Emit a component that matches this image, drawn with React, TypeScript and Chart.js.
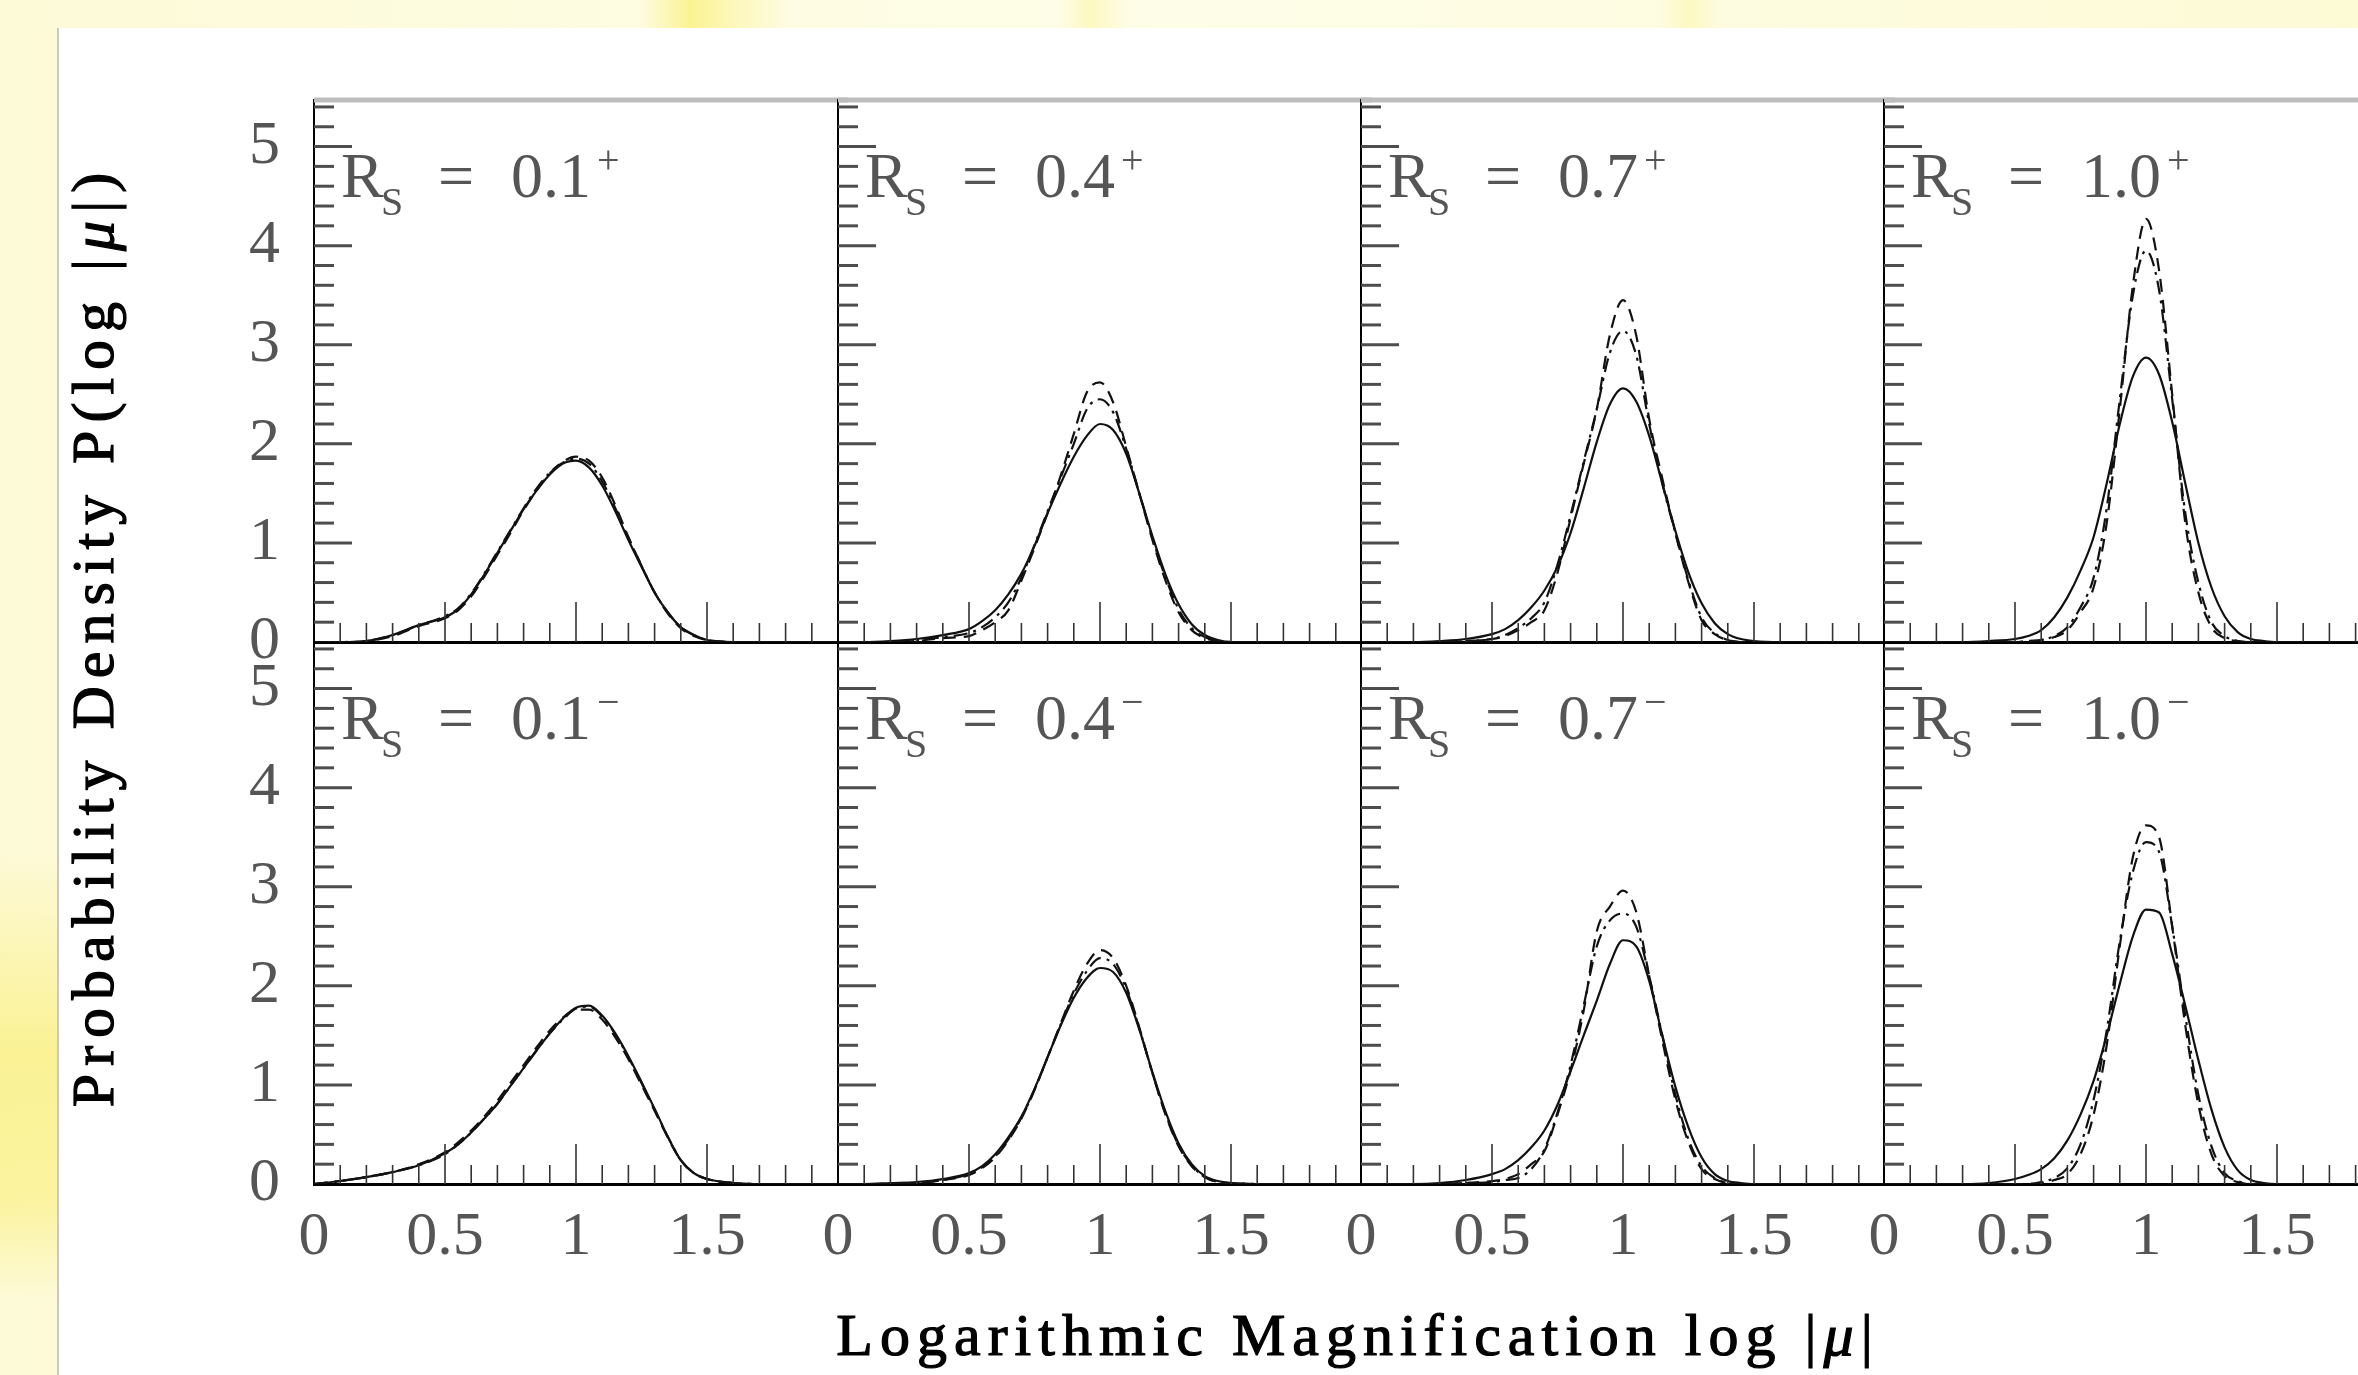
import React, { useEffect, useRef } from 'react';
import Chart from 'chart.js/auto';

// log|mu| sample points shared by every curve
const LOG_MU = [0, 0.1, 0.2, 0.3, 0.4, 0.5, 0.55, 0.6, 0.65, 0.7, 0.75, 0.8, 0.85, 0.9, 0.95, 1.0, 1.05, 1.1, 1.15, 1.2, 1.25, 1.3, 1.35, 1.4, 1.45, 1.5, 1.6, 1.7, 1.8, 1.9, 2.0];

const RS_VALUES = ['0.1', '0.4', '0.7', '1.0'];
const RS_SIGNS = ['+', '\u2212'];

// top row: Rs = 0.1+ ... 1.0+
const P01_PLUS_SOLID = [0, 0, 0.01, 0.07, 0.17, 0.25, 0.33, 0.48, 0.68, 0.9, 1.12, 1.34, 1.53, 1.69, 1.8, 1.83, 1.76, 1.58, 1.32, 1.03, 0.76, 0.5, 0.3, 0.15, 0.07, 0.02, 0, 0, 0, 0, 0];
const P01_PLUS_DASHED = [0, 0, 0.01, 0.06, 0.16, 0.24, 0.32, 0.46, 0.66, 0.88, 1.1, 1.33, 1.53, 1.7, 1.82, 1.87, 1.83, 1.66, 1.38, 1.06, 0.77, 0.5, 0.29, 0.14, 0.06, 0.02, 0, 0, 0, 0, 0];
const P01_PLUS_DOTDASH = [0, 0, 0.01, 0.07, 0.17, 0.26, 0.34, 0.49, 0.69, 0.91, 1.13, 1.35, 1.55, 1.71, 1.81, 1.85, 1.8, 1.62, 1.35, 1.05, 0.77, 0.5, 0.3, 0.15, 0.07, 0.02, 0, 0, 0, 0, 0];

const P04_PLUS_SOLID = [0, 0, 0.01, 0.03, 0.07, 0.13, 0.21, 0.32, 0.48, 0.69, 0.97, 1.3, 1.6, 1.87, 2.08, 2.2, 2.14, 1.9, 1.5, 1.07, 0.68, 0.38, 0.18, 0.07, 0.02, 0, 0, 0, 0, 0, 0];
const P04_PLUS_DASHED = [0, 0, 0, 0.01, 0.04, 0.06, 0.12, 0.2, 0.32, 0.62, 0.95, 1.3, 1.68, 2.1, 2.52, 2.62, 2.42, 1.97, 1.5, 1.03, 0.62, 0.3, 0.12, 0.04, 0.01, 0, 0, 0, 0, 0, 0];
const P04_PLUS_DOTDASH = [0, 0, 0, 0.02, 0.05, 0.09, 0.15, 0.25, 0.4, 0.65, 0.98, 1.32, 1.66, 2.0, 2.35, 2.45, 2.32, 1.95, 1.5, 1.05, 0.65, 0.33, 0.14, 0.05, 0.01, 0, 0, 0, 0, 0, 0];

const P07_PLUS_SOLID = [0, 0, 0, 0.01, 0.03, 0.08, 0.13, 0.22, 0.35, 0.52, 0.76, 1.1, 1.55, 2.02, 2.4, 2.56, 2.43, 2.08, 1.6, 1.12, 0.7, 0.39, 0.19, 0.08, 0.03, 0.01, 0, 0, 0, 0, 0];
const P07_PLUS_DASHED = [0, 0, 0, 0, 0.01, 0.03, 0.06, 0.12, 0.2, 0.32, 0.7, 1.25, 1.8, 2.35, 3.1, 3.45, 3.1, 2.25, 1.65, 1.1, 0.6, 0.22, 0.08, 0.02, 0, 0, 0, 0, 0, 0, 0];
const P07_PLUS_DOTDASH = [0, 0, 0, 0, 0.01, 0.03, 0.07, 0.14, 0.24, 0.4, 0.78, 1.28, 1.82, 2.35, 2.92, 3.14, 2.9, 2.2, 1.6, 1.1, 0.62, 0.25, 0.09, 0.02, 0, 0, 0, 0, 0, 0, 0];

const P10_PLUS_SOLID = [0, 0, 0, 0, 0.01, 0.03, 0.06, 0.12, 0.25, 0.45, 0.72, 1.06, 1.6, 2.2, 2.68, 2.87, 2.7, 2.22, 1.6, 1.0, 0.55, 0.26, 0.1, 0.03, 0.01, 0, 0, 0, 0, 0, 0];
const P10_PLUS_DASHED = [0, 0, 0, 0, 0, 0, 0.01, 0.02, 0.05, 0.12, 0.3, 0.55, 1.2, 2.35, 3.6, 4.27, 3.75, 2.5, 1.2, 0.5, 0.15, 0.04, 0.01, 0, 0, 0, 0, 0, 0, 0, 0];
const P10_PLUS_DOTDASH = [0, 0, 0, 0, 0, 0, 0.01, 0.02, 0.06, 0.15, 0.35, 0.65, 1.35, 2.45, 3.5, 3.95, 3.55, 2.45, 1.3, 0.6, 0.2, 0.06, 0.01, 0, 0, 0, 0, 0, 0, 0, 0];

// bottom row: Rs = 0.1- ... 1.0-
const P01_MINUS_SOLID = [0, 0.03, 0.07, 0.12, 0.19, 0.31, 0.4, 0.52, 0.66, 0.81, 0.99, 1.17, 1.35, 1.52, 1.67, 1.78, 1.8, 1.7, 1.52, 1.29, 1.03, 0.76, 0.48, 0.24, 0.11, 0.05, 0.01, 0, 0, 0, 0];
const P01_MINUS_DASHED = [0, 0.03, 0.07, 0.12, 0.2, 0.32, 0.42, 0.54, 0.68, 0.84, 1.02, 1.2, 1.38, 1.55, 1.68, 1.76, 1.76, 1.66, 1.48, 1.26, 1.0, 0.74, 0.47, 0.24, 0.11, 0.05, 0.01, 0, 0, 0, 0];
const P01_MINUS_DOTDASH = [0, 0.03, 0.07, 0.12, 0.19, 0.3, 0.4, 0.52, 0.66, 0.81, 0.99, 1.17, 1.35, 1.52, 1.66, 1.77, 1.79, 1.69, 1.51, 1.28, 1.02, 0.75, 0.48, 0.24, 0.11, 0.05, 0.01, 0, 0, 0, 0];

const P04_MINUS_SOLID = [0, 0, 0.01, 0.02, 0.05, 0.11, 0.18, 0.3, 0.47, 0.68, 0.96, 1.28, 1.6, 1.88, 2.08, 2.18, 2.14, 1.93, 1.56, 1.13, 0.73, 0.41, 0.2, 0.08, 0.03, 0.01, 0, 0, 0, 0, 0];
const P04_MINUS_DASHED = [0, 0, 0, 0.01, 0.04, 0.09, 0.16, 0.27, 0.44, 0.66, 0.95, 1.28, 1.62, 1.95, 2.22, 2.36, 2.28, 2.0, 1.58, 1.12, 0.7, 0.38, 0.18, 0.07, 0.02, 0.01, 0, 0, 0, 0, 0];
const P04_MINUS_DOTDASH = [0, 0, 0, 0.01, 0.04, 0.1, 0.17, 0.28, 0.45, 0.67, 0.95, 1.28, 1.61, 1.92, 2.15, 2.28, 2.22, 1.97, 1.57, 1.12, 0.71, 0.39, 0.19, 0.07, 0.02, 0.01, 0, 0, 0, 0, 0];

const P07_MINUS_SOLID = [0, 0, 0, 0.01, 0.04, 0.1, 0.15, 0.24, 0.37, 0.54, 0.8, 1.14, 1.5, 1.85, 2.22, 2.46, 2.4, 2.05, 1.5, 0.98, 0.57, 0.27, 0.1, 0.03, 0.01, 0, 0, 0, 0, 0, 0];
const P07_MINUS_DASHED = [0, 0, 0, 0, 0.01, 0.03, 0.05, 0.1, 0.2, 0.33, 0.7, 1.15, 1.75, 2.55, 2.8, 2.96, 2.75, 2.1, 1.45, 0.85, 0.42, 0.15, 0.05, 0.01, 0, 0, 0, 0, 0, 0, 0];
const P07_MINUS_DOTDASH = [0, 0, 0, 0, 0.01, 0.02, 0.04, 0.06, 0.15, 0.35, 0.72, 1.2, 1.8, 2.4, 2.66, 2.73, 2.6, 2.1, 1.5, 0.9, 0.45, 0.18, 0.06, 0.01, 0, 0, 0, 0, 0, 0, 0];

const P10_MINUS_SOLID = [0, 0, 0, 0, 0.01, 0.05, 0.09, 0.15, 0.26, 0.44, 0.7, 1.04, 1.5, 2.02, 2.5, 2.77, 2.74, 2.32, 1.8, 1.25, 0.75, 0.37, 0.14, 0.04, 0.01, 0, 0, 0, 0, 0, 0];
const P10_MINUS_DASHED = [0, 0, 0, 0, 0, 0, 0, 0.01, 0.04, 0.1, 0.3, 0.7, 1.4, 2.4, 3.3, 3.62, 3.5, 2.6, 1.6, 0.8, 0.3, 0.08, 0.02, 0, 0, 0, 0, 0, 0, 0, 0];
const P10_MINUS_DOTDASH = [0, 0, 0, 0, 0, 0, 0, 0.02, 0.06, 0.16, 0.4, 0.85, 1.55, 2.45, 3.15, 3.45, 3.35, 2.6, 1.7, 0.9, 0.38, 0.11, 0.03, 0, 0, 0, 0, 0, 0, 0, 0];

const PANELS = [
  [P01_PLUS_SOLID, P01_PLUS_DASHED, P01_PLUS_DOTDASH],
  [P04_PLUS_SOLID, P04_PLUS_DASHED, P04_PLUS_DOTDASH],
  [P07_PLUS_SOLID, P07_PLUS_DASHED, P07_PLUS_DOTDASH],
  [P10_PLUS_SOLID, P10_PLUS_DASHED, P10_PLUS_DOTDASH],
  [P01_MINUS_SOLID, P01_MINUS_DASHED, P01_MINUS_DOTDASH],
  [P04_MINUS_SOLID, P04_MINUS_DASHED, P04_MINUS_DOTDASH],
  [P07_MINUS_SOLID, P07_MINUS_DASHED, P07_MINUS_DOTDASH],
  [P10_MINUS_SOLID, P10_MINUS_DASHED, P10_MINUS_DOTDASH],
];

const LINE_DASHES = [[], [13, 8], [14, 6, 3, 6]];

// layout (page pixels)
const COL_LEFT = [314, 838, 1361, 1884];
const ROW_TOP = [100, 642];
const PANEL_W = 524;
const PANEL_H = 542;
const Y_AXIS_W = 150;
const X_AXIS_H = 110;
const PAD = 10;
const X_MAX = 2;
const Y_MAX = 5.47;

const LABEL_GRAY = '#555';
const SERIF = '"Liberation Serif", "Times New Roman", serif';

// tick marks drawn inward, plus the grey frame line on the top row
const innerTicks = {
  id: 'innerTicks',
  afterDraw(chart: any, _args: any, opts: any) {
    const { ctx, chartArea: a } = chart;
    const xs = chart.scales.x;
    const ys = chart.scales.y;
    ctx.save();
    ctx.strokeStyle = '#333';
    ctx.lineWidth = 1.6;
    for (let i = 1; i * 0.1 < xs.max - 1e-6; i++) {
      const px = xs.getPixelForValue(i * 0.1);
      const len = i % 5 === 0 ? 40 : 19;
      ctx.beginPath();
      ctx.moveTo(px, a.bottom);
      ctx.lineTo(px, a.bottom - len);
      ctx.stroke();
    }
    ctx.strokeStyle = '#4d4d4d';
    ctx.lineWidth = 3;
    for (let i = 1; i * 0.2 <= ys.max + 1e-6; i++) {
      const py = ys.getPixelForValue(i * 0.2);
      const len = i % 5 === 0 ? 38 : 20;
      ctx.beginPath();
      ctx.moveTo(a.left, py);
      ctx.lineTo(a.left + len, py);
      ctx.stroke();
    }
    if (opts && opts.topBorder) {
      ctx.strokeStyle = '#bdbdbd';
      ctx.lineWidth = 5;
      ctx.beginPath();
      ctx.moveTo(a.left, a.top);
      ctx.lineTo(a.right + PAD, a.top);
      ctx.stroke();
    }
    ctx.restore();
  },
};

const Panel: React.FC<{ idx: number }> = ({ idx }) => {
  const canvasRef = useRef<HTMLCanvasElement>(null);
  const col = idx % 4;
  const row = Math.floor(idx / 4);

  useEffect(() => {
    if (!canvasRef.current) return;
    const series = PANELS[idx];
    const chart = new Chart(canvasRef.current, {
      type: 'line',
      data: {
        datasets: series.map((vals, k) => ({
          data: LOG_MU.map((x, i) => ({ x, y: vals[i] })),
          borderColor: '#111',
          borderWidth: 2.2,
          borderDash: LINE_DASHES[k],
          pointRadius: 0,
          fill: false,
          cubicInterpolationMode: 'monotone',
        })),
      },
      options: {
        animation: false,
        responsive: true,
        maintainAspectRatio: false,
        events: [],
        layout: { padding: { top: PAD, right: PAD, left: 0, bottom: 0 } },
        plugins: {
          legend: { display: false },
          tooltip: { enabled: false },
          innerTicks: { topBorder: row === 0 },
        } as any,
        scales: {
          x: {
            type: 'linear',
            min: 0,
            max: X_MAX,
            afterFit: (s: any) => {
              s.height = X_AXIS_H;
              s.paddingLeft = 0;
              s.paddingRight = 0;
            },
            grid: { display: false, drawTicks: false },
            border: { display: true, color: '#000', width: 3 },
            ticks: {
              display: row === 1,
              stepSize: 0.5,
              includeBounds: false,
              autoSkip: false,
              maxRotation: 0,
              padding: 17,
              color: LABEL_GRAY,
              font: { family: SERIF, size: 62 },
              callback: (v: any) => (Number(v) >= X_MAX - 1e-6 ? null : String(v)),
            },
          },
          y: {
            min: 0,
            max: Y_MAX,
            afterFit: (s: any) => {
              s.width = Y_AXIS_W;
              s.paddingTop = 0;
              s.paddingBottom = 0;
            },
            grid: { display: false, drawTicks: false },
            border: { display: true, color: '#000', width: 2 },
            ticks: {
              display: col === 0,
              stepSize: 1,
              includeBounds: false,
              padding: 34,
              color: LABEL_GRAY,
              font: { family: SERIF, size: 62 },
              callback: (v: any) => String(v),
            },
          },
        },
      },
      plugins: [innerTicks],
    });
    return () => chart.destroy();
  }, [idx]);

  return (
    <div
      style={{
        position: 'absolute',
        left: COL_LEFT[col] - Y_AXIS_W,
        top: ROW_TOP[row] - PAD,
        width: Y_AXIS_W + PANEL_W + PAD,
        height: PAD + PANEL_H + X_AXIS_H,
      }}
    >
      <canvas ref={canvasRef} />
    </div>
  );
};

const RsLabel: React.FC<{ idx: number }> = ({ idx }) => {
  const col = idx % 4;
  const row = Math.floor(idx / 4);
  const base: React.CSSProperties = {
    position: 'absolute',
    lineHeight: 1,
    fontFamily: SERIF,
    color: LABEL_GRAY,
    whiteSpace: 'pre',
  };
  return (
    <div style={{ position: 'absolute', left: COL_LEFT[col] + 27, top: ROW_TOP[row] }}>
      <span style={{ ...base, left: 0, top: 44, fontSize: 64 }}>R</span>
      <span style={{ ...base, left: 40, top: 82, fontSize: 40 }}>S</span>
      <span style={{ ...base, left: 97, top: 44, fontSize: 64 }}>=</span>
      <span style={{ ...base, left: 170, top: 44, fontSize: 64 }}>{RS_VALUES[col]}</span>
      <span style={{ ...base, left: 256, top: 40, fontSize: 40 }}>{RS_SIGNS[row]}</span>
    </div>
  );
};

const App: React.FC = () => {
  const titleStyle: React.CSSProperties = {
    position: 'absolute',
    fontFamily: SERIF,
    fontSize: 60,
    lineHeight: 1,
    color: '#000',
    whiteSpace: 'nowrap',
    WebkitTextStroke: '1.2px #000',
  };
  return (
    <div
      style={{
        position: 'fixed',
        left: 0,
        top: 0,
        width: 2358,
        height: 1375,
        overflow: 'hidden',
        background:
          'linear-gradient(90deg, rgba(250,240,120,0) 640px, rgba(250,240,120,0.75) 690px, rgba(250,240,120,0.4) 730px, rgba(250,240,120,0) 790px, rgba(250,240,120,0) 1060px, rgba(250,240,120,0.35) 1090px, rgba(250,240,120,0) 1130px, rgba(250,240,120,0) 1660px, rgba(250,240,120,0.3) 1690px, rgba(250,240,120,0) 1720px),' +
          'linear-gradient(180deg, rgba(250,240,120,0) 850px, rgba(249,238,120,0.7) 1050px, rgba(249,238,120,0.6) 1200px, rgba(250,240,120,0) 1300px),' +
          'linear-gradient(90deg, #fdfad8, #fefde8 50%, #fdfad6)',
      }}
    >
      <div
        style={{
          position: 'absolute',
          left: 57,
          top: 28,
          right: 0,
          bottom: 0,
          background: '#fff',
          borderLeft: '2px solid #c8c8c8',
        }}
      />
      {PANELS.map((_, i) => (
        <Panel key={'p' + i} idx={i} />
      ))}
      {PANELS.map((_, i) => (
        <RsLabel key={'l' + i} idx={i} />
      ))}
      <div
        style={{
          ...titleStyle,
          left: 93,
          top: 636,
          letterSpacing: 8,
          transform: 'translate(-50%, -50%) rotate(-90deg)',
        }}
      >
        Probability Density P(log |<i>μ</i>|)
      </div>
      <div
        style={{
          ...titleStyle,
          left: 1358,
          top: 1335,
          letterSpacing: 7,
          transform: 'translate(-50%, -50%)',
        }}
      >
        Logarithmic Magnification log |<i>μ</i>|
      </div>
    </div>
  );
};

export default App;
